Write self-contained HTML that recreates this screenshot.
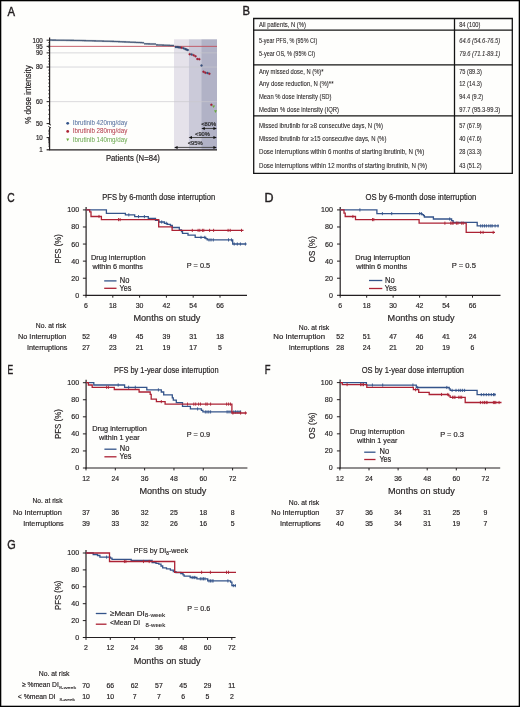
<!DOCTYPE html>
<html><head><meta charset="utf-8"><title>Figure</title>
<style>
html,body{margin:0;padding:0;background:#fff;}
svg{display:block;will-change:transform;font-family:"Liberation Sans", sans-serif;}
</style></head>
<body>
<svg width="520" height="707" viewBox="0 0 520 707">
<rect x="0.5" y="0.5" width="519" height="706" fill="#fefefc" stroke="#000" stroke-width="1.6"/>
<text x="7.38" y="15.50" font-size="13.08" textLength="7.54" lengthAdjust="spacingAndGlyphs" fill="#231f20" stroke="#231f20" stroke-width="0.45">A</text>
<text x="242.38" y="15.20" font-size="12.79" textLength="7.52" lengthAdjust="spacingAndGlyphs" fill="#231f20" stroke="#231f20" stroke-width="0.45">B</text>
<text x="7.28" y="201.67" font-size="13.42" textLength="7.41" lengthAdjust="spacingAndGlyphs" fill="#231f20" stroke="#231f20" stroke-width="0.45">C</text>
<text x="264.38" y="201.60" font-size="13.23" textLength="9.02" lengthAdjust="spacingAndGlyphs" fill="#231f20" stroke="#231f20" stroke-width="0.45">D</text>
<text x="7.50" y="373.60" font-size="13.23" textLength="5.66" lengthAdjust="spacingAndGlyphs" fill="#231f20" stroke="#231f20" stroke-width="0.45">E</text>
<text x="264.63" y="373.60" font-size="13.23" textLength="5.75" lengthAdjust="spacingAndGlyphs" fill="#231f20" stroke="#231f20" stroke-width="0.45">F</text>
<text x="7.25" y="548.77" font-size="13.42" textLength="8.46" lengthAdjust="spacingAndGlyphs" fill="#231f20" stroke="#231f20" stroke-width="0.45">G</text>
<rect x="174" y="39.3" width="14.8" height="110.50000000000001" fill="#e5e2ea"/>
<rect x="188.8" y="39.3" width="12.4" height="110.50000000000001" fill="#cbcad9"/>
<rect x="201.2" y="39.3" width="15.800000000000011" height="110.50000000000001" fill="#b1b2c6"/>
<line x1="49.6" y1="52.87" x2="217.0" y2="52.87" stroke="#c8c6cc" stroke-opacity="0.75" stroke-width="0.9"/>
<line x1="49.6" y1="67.04" x2="217.0" y2="67.04" stroke="#c8c6cc" stroke-opacity="0.75" stroke-width="0.9"/>
<line x1="49.6" y1="101.65" x2="217.0" y2="101.65" stroke="#c8c6cc" stroke-opacity="0.75" stroke-width="0.9"/>
<line x1="49.6" y1="46.37" x2="217.0" y2="46.37" stroke="#c0505e" stroke-width="0.9"/>
<line x1="49.6" y1="37.6" x2="49.6" y2="124.4" stroke="#231f20" stroke-width="1.2"/>
<line x1="49.6" y1="127.4" x2="49.6" y2="149.8" stroke="#231f20" stroke-width="1.2"/>
<path d="M48.4 123.6 L51.0 125.2" stroke="#231f20" stroke-width="1" fill="none"/>
<path d="M48.4 126.4 L51.0 128.0" stroke="#231f20" stroke-width="1" fill="none"/>
<line x1="49.0" y1="149.8" x2="217.0" y2="149.8" stroke="#231f20" stroke-width="1.3"/>
<line x1="46.6" y1="40.2" x2="49.6" y2="40.2" stroke="#231f20" stroke-width="1"/>
<line x1="46.6" y1="46.37" x2="49.6" y2="46.37" stroke="#231f20" stroke-width="1"/>
<line x1="46.6" y1="52.87" x2="49.6" y2="52.87" stroke="#231f20" stroke-width="1"/>
<line x1="46.6" y1="67.04" x2="49.6" y2="67.04" stroke="#231f20" stroke-width="1"/>
<line x1="46.6" y1="101.65" x2="49.6" y2="101.65" stroke="#231f20" stroke-width="1"/>
<line x1="46.6" y1="123.59" x2="49.6" y2="123.59" stroke="#231f20" stroke-width="1"/>
<line x1="48.0" y1="118.87" x2="49.6" y2="118.87" stroke="#231f20" stroke-width="0.6"/>
<line x1="48.0" y1="114.33" x2="49.6" y2="114.33" stroke="#231f20" stroke-width="0.6"/>
<line x1="48.0" y1="109.95" x2="49.6" y2="109.95" stroke="#231f20" stroke-width="0.6"/>
<line x1="48.0" y1="105.73" x2="49.6" y2="105.73" stroke="#231f20" stroke-width="0.6"/>
<line x1="48.0" y1="97.71" x2="49.6" y2="97.71" stroke="#231f20" stroke-width="0.6"/>
<line x1="48.0" y1="93.89" x2="49.6" y2="93.89" stroke="#231f20" stroke-width="0.6"/>
<line x1="48.0" y1="90.19" x2="49.6" y2="90.19" stroke="#231f20" stroke-width="0.6"/>
<line x1="48.0" y1="86.6" x2="49.6" y2="86.6" stroke="#231f20" stroke-width="0.6"/>
<line x1="48.0" y1="83.11" x2="49.6" y2="83.11" stroke="#231f20" stroke-width="0.6"/>
<line x1="48.0" y1="79.72" x2="49.6" y2="79.72" stroke="#231f20" stroke-width="0.6"/>
<line x1="48.0" y1="76.42" x2="49.6" y2="76.42" stroke="#231f20" stroke-width="0.6"/>
<line x1="48.0" y1="73.21" x2="49.6" y2="73.21" stroke="#231f20" stroke-width="0.6"/>
<line x1="48.0" y1="70.09" x2="49.6" y2="70.09" stroke="#231f20" stroke-width="0.6"/>
<line x1="48.0" y1="64.07" x2="49.6" y2="64.07" stroke="#231f20" stroke-width="0.6"/>
<line x1="48.0" y1="61.17" x2="49.6" y2="61.17" stroke="#231f20" stroke-width="0.6"/>
<line x1="48.0" y1="58.34" x2="49.6" y2="58.34" stroke="#231f20" stroke-width="0.6"/>
<line x1="48.0" y1="55.58" x2="49.6" y2="55.58" stroke="#231f20" stroke-width="0.6"/>
<line x1="48.0" y1="50.23" x2="49.6" y2="50.23" stroke="#231f20" stroke-width="0.6"/>
<line x1="48.0" y1="47.64" x2="49.6" y2="47.64" stroke="#231f20" stroke-width="0.6"/>
<line x1="48.0" y1="45.11" x2="49.6" y2="45.11" stroke="#231f20" stroke-width="0.6"/>
<line x1="48.0" y1="42.63" x2="49.6" y2="42.63" stroke="#231f20" stroke-width="0.6"/>
<line x1="48.0" y1="146.13" x2="49.6" y2="146.13" stroke="#231f20" stroke-width="0.6"/>
<line x1="48.0" y1="143.98" x2="49.6" y2="143.98" stroke="#231f20" stroke-width="0.6"/>
<line x1="48.0" y1="142.45" x2="49.6" y2="142.45" stroke="#231f20" stroke-width="0.6"/>
<line x1="48.0" y1="141.27" x2="49.6" y2="141.27" stroke="#231f20" stroke-width="0.6"/>
<line x1="48.0" y1="140.31" x2="49.6" y2="140.31" stroke="#231f20" stroke-width="0.6"/>
<line x1="48.0" y1="139.49" x2="49.6" y2="139.49" stroke="#231f20" stroke-width="0.6"/>
<line x1="48.0" y1="138.78" x2="49.6" y2="138.78" stroke="#231f20" stroke-width="0.6"/>
<line x1="48.0" y1="138.16" x2="49.6" y2="138.16" stroke="#231f20" stroke-width="0.6"/>
<line x1="48.0" y1="133.93" x2="49.6" y2="133.93" stroke="#231f20" stroke-width="0.6"/>
<line x1="48.0" y1="131.78" x2="49.6" y2="131.78" stroke="#231f20" stroke-width="0.6"/>
<line x1="48.0" y1="130.25" x2="49.6" y2="130.25" stroke="#231f20" stroke-width="0.6"/>
<line x1="46.6" y1="137.6" x2="49.6" y2="137.6" stroke="#231f20" stroke-width="1"/>
<text x="42.8" y="42.5" font-size="6.8" text-anchor="end" textLength="10.350000000000001" lengthAdjust="spacingAndGlyphs" fill="#231f20" stroke="#231f20" stroke-width="0.18">100</text>
<text x="42.8" y="48.67" font-size="6.8" text-anchor="end" textLength="6.9" lengthAdjust="spacingAndGlyphs" fill="#231f20" stroke="#231f20" stroke-width="0.18">95</text>
<text x="42.8" y="55.17" font-size="6.8" text-anchor="end" textLength="6.9" lengthAdjust="spacingAndGlyphs" fill="#231f20" stroke="#231f20" stroke-width="0.18">90</text>
<text x="42.8" y="69.34" font-size="6.8" text-anchor="end" textLength="6.9" lengthAdjust="spacingAndGlyphs" fill="#231f20" stroke="#231f20" stroke-width="0.18">80</text>
<text x="42.8" y="103.95" font-size="6.8" text-anchor="end" textLength="6.9" lengthAdjust="spacingAndGlyphs" fill="#231f20" stroke="#231f20" stroke-width="0.18">60</text>
<text x="42.8" y="125.89" font-size="6.8" text-anchor="end" textLength="6.9" lengthAdjust="spacingAndGlyphs" fill="#231f20" stroke="#231f20" stroke-width="0.18">50</text>
<text x="42.8" y="139.9" font-size="6.8" text-anchor="end" textLength="6.9" lengthAdjust="spacingAndGlyphs" fill="#231f20" stroke="#231f20" stroke-width="0.18">10</text>
<text x="42.8" y="152.1" font-size="6.8" text-anchor="end" textLength="3.45" lengthAdjust="spacingAndGlyphs" fill="#231f20" stroke="#231f20" stroke-width="0.18">1</text>
<line x1="46.6" y1="149.8" x2="49.6" y2="149.8" stroke="#231f20" stroke-width="1.2"/>
<text transform="translate(31.0 94.6) rotate(-90)" font-size="8.2" text-anchor="middle" textLength="58.5" lengthAdjust="spacingAndGlyphs" fill="#231f20" stroke="#231f20" stroke-width="0.18">% dose intensity</text>
<text x="105.9" y="160.5" font-size="8.3" textLength="54" lengthAdjust="spacingAndGlyphs" fill="#231f20" stroke="#231f20" stroke-width="0.18">Patients (N=84)</text>
<circle cx="67.7" cy="123.3" r="1.4" fill="#34548a"/>
<circle cx="67.7" cy="131.4" r="1.4" fill="#ac2234"/>
<path d="M66.2 138.4 L69.2 138.4 L67.7 141.2 Z" fill="#6aaa3c"/>
<text x="72.8" y="125.2" font-size="6.5" textLength="54.5" lengthAdjust="spacingAndGlyphs" fill="#5872a0" stroke="#5872a0" stroke-width="0.05">Ibrutinib 420mg/day</text>
<text x="72.8" y="133.4" font-size="6.5" textLength="54.5" lengthAdjust="spacingAndGlyphs" fill="#b6404f" stroke="#b6404f" stroke-width="0.05">Ibrutinib 280mg/day</text>
<text x="72.8" y="141.5" font-size="6.5" textLength="54.5" lengthAdjust="spacingAndGlyphs" fill="#6fab55" stroke="#6fab55" stroke-width="0.05">Ibrutinib 140mg/day</text>
<circle cx="51.0" cy="40.11" r="0.8" fill="#2c4672" stroke="#1b2b48" stroke-width="0.3"/>
<circle cx="53.0" cy="40.14" r="0.8" fill="#2c4672" stroke="#1b2b48" stroke-width="0.3"/>
<circle cx="55.0" cy="40.17" r="0.8" fill="#2c4672" stroke="#1b2b48" stroke-width="0.3"/>
<circle cx="57.0" cy="40.19" r="0.8" fill="#2c4672" stroke="#1b2b48" stroke-width="0.3"/>
<circle cx="59.0" cy="40.22" r="0.8" fill="#2c4672" stroke="#1b2b48" stroke-width="0.3"/>
<circle cx="61.0" cy="40.25" r="0.8" fill="#2c4672" stroke="#1b2b48" stroke-width="0.3"/>
<circle cx="63.0" cy="40.27" r="0.8" fill="#2c4672" stroke="#1b2b48" stroke-width="0.3"/>
<circle cx="65.0" cy="40.30" r="0.8" fill="#2c4672" stroke="#1b2b48" stroke-width="0.3"/>
<circle cx="67.0" cy="40.33" r="0.8" fill="#2c4672" stroke="#1b2b48" stroke-width="0.3"/>
<circle cx="69.0" cy="40.35" r="0.8" fill="#2c4672" stroke="#1b2b48" stroke-width="0.3"/>
<circle cx="71.0" cy="40.38" r="0.8" fill="#2c4672" stroke="#1b2b48" stroke-width="0.3"/>
<circle cx="73.0" cy="40.41" r="0.8" fill="#2c4672" stroke="#1b2b48" stroke-width="0.3"/>
<circle cx="75.0" cy="40.43" r="0.8" fill="#2c4672" stroke="#1b2b48" stroke-width="0.3"/>
<circle cx="77.0" cy="40.46" r="0.8" fill="#2c4672" stroke="#1b2b48" stroke-width="0.3"/>
<circle cx="79.0" cy="40.49" r="0.8" fill="#2c4672" stroke="#1b2b48" stroke-width="0.3"/>
<circle cx="81.0" cy="40.53" r="0.8" fill="#2c4672" stroke="#1b2b48" stroke-width="0.3"/>
<circle cx="83.0" cy="40.58" r="0.8" fill="#2c4672" stroke="#1b2b48" stroke-width="0.3"/>
<circle cx="85.0" cy="40.64" r="0.8" fill="#2c4672" stroke="#1b2b48" stroke-width="0.3"/>
<circle cx="87.0" cy="40.69" r="0.8" fill="#2c4672" stroke="#1b2b48" stroke-width="0.3"/>
<circle cx="89.0" cy="40.75" r="0.8" fill="#2c4672" stroke="#1b2b48" stroke-width="0.3"/>
<circle cx="91.0" cy="40.80" r="0.8" fill="#2c4672" stroke="#1b2b48" stroke-width="0.3"/>
<circle cx="93.0" cy="40.85" r="0.8" fill="#2c4672" stroke="#1b2b48" stroke-width="0.3"/>
<circle cx="95.0" cy="40.91" r="0.8" fill="#2c4672" stroke="#1b2b48" stroke-width="0.3"/>
<circle cx="97.0" cy="40.96" r="0.8" fill="#2c4672" stroke="#1b2b48" stroke-width="0.3"/>
<circle cx="99.0" cy="41.02" r="0.8" fill="#2c4672" stroke="#1b2b48" stroke-width="0.3"/>
<circle cx="101.0" cy="41.07" r="0.8" fill="#2c4672" stroke="#1b2b48" stroke-width="0.3"/>
<circle cx="103.0" cy="41.13" r="0.8" fill="#2c4672" stroke="#1b2b48" stroke-width="0.3"/>
<circle cx="105.0" cy="41.18" r="0.8" fill="#2c4672" stroke="#1b2b48" stroke-width="0.3"/>
<circle cx="107.0" cy="41.24" r="0.8" fill="#2c4672" stroke="#1b2b48" stroke-width="0.3"/>
<circle cx="109.0" cy="41.29" r="0.8" fill="#2c4672" stroke="#1b2b48" stroke-width="0.3"/>
<circle cx="111.0" cy="41.35" r="0.8" fill="#2c4672" stroke="#1b2b48" stroke-width="0.3"/>
<circle cx="113.0" cy="41.40" r="0.8" fill="#2c4672" stroke="#1b2b48" stroke-width="0.3"/>
<circle cx="115.0" cy="41.49" r="0.8" fill="#2c4672" stroke="#1b2b48" stroke-width="0.3"/>
<circle cx="117.0" cy="41.57" r="0.8" fill="#2c4672" stroke="#1b2b48" stroke-width="0.3"/>
<circle cx="119.0" cy="41.66" r="0.8" fill="#2c4672" stroke="#1b2b48" stroke-width="0.3"/>
<circle cx="121.0" cy="41.75" r="0.8" fill="#2c4672" stroke="#1b2b48" stroke-width="0.3"/>
<circle cx="123.0" cy="41.83" r="0.8" fill="#2c4672" stroke="#1b2b48" stroke-width="0.3"/>
<circle cx="125.0" cy="41.92" r="0.8" fill="#2c4672" stroke="#1b2b48" stroke-width="0.3"/>
<circle cx="127.0" cy="42.01" r="0.8" fill="#2c4672" stroke="#1b2b48" stroke-width="0.3"/>
<circle cx="129.0" cy="42.09" r="0.8" fill="#2c4672" stroke="#1b2b48" stroke-width="0.3"/>
<circle cx="131.0" cy="42.18" r="0.8" fill="#2c4672" stroke="#1b2b48" stroke-width="0.3"/>
<circle cx="133.0" cy="42.27" r="0.8" fill="#2c4672" stroke="#1b2b48" stroke-width="0.3"/>
<circle cx="135.0" cy="42.35" r="0.8" fill="#2c4672" stroke="#1b2b48" stroke-width="0.3"/>
<circle cx="137.0" cy="42.44" r="0.8" fill="#2c4672" stroke="#1b2b48" stroke-width="0.3"/>
<circle cx="139.0" cy="42.53" r="0.8" fill="#2c4672" stroke="#1b2b48" stroke-width="0.3"/>
<circle cx="141.0" cy="42.61" r="0.8" fill="#2c4672" stroke="#1b2b48" stroke-width="0.3"/>
<circle cx="143.0" cy="42.70" r="0.8" fill="#2c4672" stroke="#1b2b48" stroke-width="0.3"/>
<circle cx="145.0" cy="43.81" r="0.8" fill="#2c4672" stroke="#1b2b48" stroke-width="0.3"/>
<circle cx="147.0" cy="43.87" r="0.8" fill="#2c4672" stroke="#1b2b48" stroke-width="0.3"/>
<circle cx="149.0" cy="43.92" r="0.8" fill="#2c4672" stroke="#1b2b48" stroke-width="0.3"/>
<circle cx="151.0" cy="43.97" r="0.8" fill="#2c4672" stroke="#1b2b48" stroke-width="0.3"/>
<circle cx="153.0" cy="44.02" r="0.8" fill="#2c4672" stroke="#1b2b48" stroke-width="0.3"/>
<circle cx="155.0" cy="44.07" r="0.8" fill="#2c4672" stroke="#1b2b48" stroke-width="0.3"/>
<circle cx="157.0" cy="44.90" r="0.8" fill="#2c4672" stroke="#1b2b48" stroke-width="0.3"/>
<circle cx="159.0" cy="44.98" r="0.8" fill="#2c4672" stroke="#1b2b48" stroke-width="0.3"/>
<circle cx="161.0" cy="45.06" r="0.8" fill="#2c4672" stroke="#1b2b48" stroke-width="0.3"/>
<circle cx="163.0" cy="45.13" r="0.8" fill="#2c4672" stroke="#1b2b48" stroke-width="0.3"/>
<circle cx="165.0" cy="45.21" r="0.8" fill="#2c4672" stroke="#1b2b48" stroke-width="0.3"/>
<circle cx="167.0" cy="45.29" r="0.8" fill="#2c4672" stroke="#1b2b48" stroke-width="0.3"/>
<circle cx="169.0" cy="45.37" r="0.8" fill="#2c4672" stroke="#1b2b48" stroke-width="0.3"/>
<circle cx="171.0" cy="45.44" r="0.8" fill="#2c4672" stroke="#1b2b48" stroke-width="0.3"/>
<circle cx="173.0" cy="45.52" r="0.8" fill="#2c4672" stroke="#1b2b48" stroke-width="0.3"/>
<circle cx="175.8" cy="46.90" r="1.0" fill="#34507f" stroke="#22365a" stroke-width="0.3"/>
<circle cx="177.2" cy="47.10" r="1.0" fill="#34507f" stroke="#22365a" stroke-width="0.3"/>
<circle cx="178.7" cy="47.30" r="1.0" fill="#34507f" stroke="#22365a" stroke-width="0.3"/>
<circle cx="180.1" cy="47.50" r="1.0" fill="#34507f" stroke="#22365a" stroke-width="0.3"/>
<circle cx="181.7" cy="47.70" r="1.0" fill="#b01f36" stroke="#7a1525" stroke-width="0.3"/>
<circle cx="183.5" cy="48.20" r="1.0" fill="#34507f" stroke="#22365a" stroke-width="0.3"/>
<circle cx="185.2" cy="49.10" r="1.0" fill="#34507f" stroke="#22365a" stroke-width="0.3"/>
<circle cx="186.5" cy="49.60" r="1.0" fill="#34507f" stroke="#22365a" stroke-width="0.3"/>
<circle cx="187.8" cy="50.10" r="1.0" fill="#34507f" stroke="#22365a" stroke-width="0.3"/>
<circle cx="189.7" cy="54.20" r="1.0" fill="#b01f36" stroke="#7a1525" stroke-width="0.3"/>
<circle cx="191.6" cy="54.40" r="1.0" fill="#34507f" stroke="#22365a" stroke-width="0.3"/>
<circle cx="193.6" cy="55.20" r="1.0" fill="#b01f36" stroke="#7a1525" stroke-width="0.3"/>
<circle cx="195.5" cy="56.30" r="1.0" fill="#b01f36" stroke="#7a1525" stroke-width="0.3"/>
<circle cx="197.4" cy="59.00" r="1.0" fill="#b01f36" stroke="#7a1525" stroke-width="0.3"/>
<circle cx="199.3" cy="59.20" r="1.0" fill="#b01f36" stroke="#7a1525" stroke-width="0.3"/>
<circle cx="201.5" cy="65.50" r="1.0" fill="#34507f" stroke="#22365a" stroke-width="0.3"/>
<circle cx="203.5" cy="71.70" r="1.0" fill="#b01f36" stroke="#7a1525" stroke-width="0.3"/>
<circle cx="205.4" cy="72.70" r="1.0" fill="#b01f36" stroke="#7a1525" stroke-width="0.3"/>
<circle cx="207.5" cy="73.00" r="1.0" fill="#34507f" stroke="#22365a" stroke-width="0.3"/>
<circle cx="209.4" cy="73.70" r="1.0" fill="#b01f36" stroke="#7a1525" stroke-width="0.3"/>
<circle cx="211.4" cy="104.80" r="1.0" fill="#b01f36" stroke="#7a1525" stroke-width="0.3"/>
<path d="M212.1 105.4 L215.1 105.4 L213.6 108.1 Z" fill="#6aaa3c"/>
<path d="M214.0 110.3 L217.0 110.3 L215.5 113.0 Z" fill="#6aaa3c"/>
<line x1="202.9" y1="128.5" x2="215.3" y2="128.5" stroke="#4a4a4a" stroke-width="1"/>
<path d="M201.4 128.5 L204.8 127.0 L204.8 130.0 Z" fill="#111"/>
<path d="M216.8 128.5 L213.4 127.0 L213.4 130.0 Z" fill="#111"/>
<line x1="190.1" y1="137.5" x2="215.3" y2="137.5" stroke="#4a4a4a" stroke-width="1"/>
<path d="M188.6 137.5 L192.0 136.0 L192.0 139.0 Z" fill="#111"/>
<path d="M216.8 137.5 L213.4 136.0 L213.4 139.0 Z" fill="#111"/>
<line x1="175.7" y1="147.4" x2="215.3" y2="147.4" stroke="#4a4a4a" stroke-width="1"/>
<path d="M174.2 147.4 L177.6 145.9 L177.6 148.9 Z" fill="#111"/>
<path d="M216.8 147.4 L213.4 145.9 L213.4 148.9 Z" fill="#111"/>
<text x="201.2" y="125.8" font-size="5.0" textLength="15.0" lengthAdjust="spacingAndGlyphs" fill="#2a2a2a" stroke="#2a2a2a" stroke-width="0.18">&lt;80%</text>
<text x="195.1" y="135.5" font-size="5.0" textLength="14.8" lengthAdjust="spacingAndGlyphs" fill="#2a2a2a" stroke="#2a2a2a" stroke-width="0.18">&lt;90%</text>
<text x="187.7" y="145.2" font-size="5.0" textLength="15.1" lengthAdjust="spacingAndGlyphs" fill="#2a2a2a" stroke="#2a2a2a" stroke-width="0.18">&lt;95%</text>
<line x1="253.04999999999998" y1="18.5" x2="512.9499999999999" y2="18.5" stroke="#141414" stroke-width="1.3"/>
<line x1="253.04999999999998" y1="30.1" x2="512.9499999999999" y2="30.1" stroke="#141414" stroke-width="1.3"/>
<line x1="253.04999999999998" y1="64.8" x2="512.9499999999999" y2="64.8" stroke="#141414" stroke-width="1.3"/>
<line x1="253.04999999999998" y1="115.8" x2="512.9499999999999" y2="115.8" stroke="#141414" stroke-width="1.3"/>
<line x1="253.04999999999998" y1="173.3" x2="512.9499999999999" y2="173.3" stroke="#141414" stroke-width="1.3"/>
<line x1="253.7" y1="18.5" x2="253.7" y2="173.3" stroke="#141414" stroke-width="1.3"/>
<line x1="512.3" y1="18.5" x2="512.3" y2="173.3" stroke="#141414" stroke-width="1.3"/>
<line x1="454.5" y1="18.5" x2="454.5" y2="173.3" stroke="#141414" stroke-width="1.3"/>
<text x="259.0" y="26.8" font-size="6.6" textLength="47.0" lengthAdjust="spacingAndGlyphs" fill="#231f20" stroke="#231f20" stroke-width="0.08">All patients, N (%)</text>
<text x="459.2" y="26.8" font-size="6.6" textLength="21.2" lengthAdjust="spacingAndGlyphs" fill="#231f20" stroke="#231f20" stroke-width="0.08">84 (100)</text>
<text x="259.0" y="43.1" font-size="6.6" textLength="58.2" lengthAdjust="spacingAndGlyphs" fill="#231f20" stroke="#231f20" stroke-width="0.08">5-year PFS, % (95% CI)</text>
<text x="459.2" y="43.1" font-size="6.6" textLength="41.0" lengthAdjust="spacingAndGlyphs" fill="#231f20" stroke="#231f20" stroke-width="0.08" font-style="italic">64.6 (54.6-76.5)</text>
<text x="259.0" y="55.6" font-size="6.6" textLength="56.2" lengthAdjust="spacingAndGlyphs" fill="#231f20" stroke="#231f20" stroke-width="0.08">5-year OS, % (95% CI)</text>
<text x="459.2" y="55.6" font-size="6.6" textLength="41.0" lengthAdjust="spacingAndGlyphs" fill="#231f20" stroke="#231f20" stroke-width="0.08" font-style="italic">79.6 (71.1-89.1)</text>
<text x="259.0" y="73.6" font-size="6.6" textLength="64.5" lengthAdjust="spacingAndGlyphs" fill="#231f20" stroke="#231f20" stroke-width="0.08">Any missed dose, N (%)*</text>
<text x="459.2" y="73.6" font-size="6.6" textLength="22.6" lengthAdjust="spacingAndGlyphs" fill="#231f20" stroke="#231f20" stroke-width="0.08">75 (89.3)</text>
<text x="259.0" y="86.2" font-size="6.6" textLength="74.5" lengthAdjust="spacingAndGlyphs" fill="#231f20" stroke="#231f20" stroke-width="0.08">Any dose reduction, N (%)**</text>
<text x="459.2" y="86.2" font-size="6.6" textLength="22.6" lengthAdjust="spacingAndGlyphs" fill="#231f20" stroke="#231f20" stroke-width="0.08">12 (14.3)</text>
<text x="259.0" y="98.8" font-size="6.6" textLength="72.5" lengthAdjust="spacingAndGlyphs" fill="#231f20" stroke="#231f20" stroke-width="0.08">Mean % dose intensity (SD)</text>
<text x="459.2" y="98.8" font-size="6.6" textLength="24.0" lengthAdjust="spacingAndGlyphs" fill="#231f20" stroke="#231f20" stroke-width="0.08">94.4 (9.2)</text>
<text x="259.0" y="111.8" font-size="6.6" textLength="80.0" lengthAdjust="spacingAndGlyphs" fill="#231f20" stroke="#231f20" stroke-width="0.08">Median % dose intensity (IQR)</text>
<text x="459.2" y="111.8" font-size="6.6" textLength="41.0" lengthAdjust="spacingAndGlyphs" fill="#231f20" stroke="#231f20" stroke-width="0.08">97.7 (95.3-99.3)</text>
<text x="259.0" y="127.6" font-size="6.6" textLength="124.0" lengthAdjust="spacingAndGlyphs" fill="#231f20" stroke="#231f20" stroke-width="0.08">Missed ibrutinib for ≥8 consecutive days, N (%)</text>
<text x="459.2" y="127.6" font-size="6.6" textLength="22.5" lengthAdjust="spacingAndGlyphs" fill="#231f20" stroke="#231f20" stroke-width="0.08">57 (67.9)</text>
<text x="259.0" y="140.7" font-size="6.6" textLength="127.4" lengthAdjust="spacingAndGlyphs" fill="#231f20" stroke="#231f20" stroke-width="0.08">Missed ibrutinib for ≥15 consecutive days, N (%)</text>
<text x="459.2" y="140.7" font-size="6.6" textLength="22.5" lengthAdjust="spacingAndGlyphs" fill="#231f20" stroke="#231f20" stroke-width="0.08">40 (47.6)</text>
<text x="259.0" y="154.2" font-size="6.6" textLength="165.2" lengthAdjust="spacingAndGlyphs" fill="#231f20" stroke="#231f20" stroke-width="0.08">Dose interruptions within 6 months of starting ibrutinib, N (%)</text>
<text x="459.2" y="154.2" font-size="6.6" textLength="22.5" lengthAdjust="spacingAndGlyphs" fill="#231f20" stroke="#231f20" stroke-width="0.08">28 (33.3)</text>
<text x="259.0" y="167.5" font-size="6.6" textLength="168.1" lengthAdjust="spacingAndGlyphs" fill="#231f20" stroke="#231f20" stroke-width="0.08">Dose interruptions within 12 months of starting ibrutinib, N (%)</text>
<text x="459.2" y="167.5" font-size="6.6" textLength="22.5" lengthAdjust="spacingAndGlyphs" fill="#231f20" stroke="#231f20" stroke-width="0.08">43 (51.2)</text>
<line x1="86.1" y1="206.9" x2="86.1" y2="295.90000000000003" stroke="#231f20" stroke-width="1.2"/>
<line x1="85.5" y1="295.3" x2="247.0" y2="295.3" stroke="#231f20" stroke-width="1.2"/>
<line x1="82.89999999999999" y1="295.3" x2="86.1" y2="295.3" stroke="#231f20" stroke-width="1"/>
<text x="79.2" y="297.75" font-size="8.0" text-anchor="end" textLength="3.95" lengthAdjust="spacingAndGlyphs" fill="#231f20" stroke="#231f20" stroke-width="0.18">0</text>
<line x1="82.89999999999999" y1="278.22" x2="86.1" y2="278.22" stroke="#231f20" stroke-width="1"/>
<text x="79.2" y="280.67" font-size="8.0" text-anchor="end" textLength="7.9" lengthAdjust="spacingAndGlyphs" fill="#231f20" stroke="#231f20" stroke-width="0.18">20</text>
<line x1="82.89999999999999" y1="261.14" x2="86.1" y2="261.14" stroke="#231f20" stroke-width="1"/>
<text x="79.2" y="263.59" font-size="8.0" text-anchor="end" textLength="7.9" lengthAdjust="spacingAndGlyphs" fill="#231f20" stroke="#231f20" stroke-width="0.18">40</text>
<line x1="82.89999999999999" y1="244.06" x2="86.1" y2="244.06" stroke="#231f20" stroke-width="1"/>
<text x="79.2" y="246.51" font-size="8.0" text-anchor="end" textLength="7.9" lengthAdjust="spacingAndGlyphs" fill="#231f20" stroke="#231f20" stroke-width="0.18">60</text>
<line x1="82.89999999999999" y1="226.98" x2="86.1" y2="226.98" stroke="#231f20" stroke-width="1"/>
<text x="79.2" y="229.43" font-size="8.0" text-anchor="end" textLength="7.9" lengthAdjust="spacingAndGlyphs" fill="#231f20" stroke="#231f20" stroke-width="0.18">80</text>
<line x1="82.89999999999999" y1="209.9" x2="86.1" y2="209.9" stroke="#231f20" stroke-width="1"/>
<text x="79.2" y="212.35" font-size="8.0" text-anchor="end" textLength="11.85" lengthAdjust="spacingAndGlyphs" fill="#231f20" stroke="#231f20" stroke-width="0.18">100</text>
<line x1="86.0" y1="295.3" x2="86.0" y2="297.7" stroke="#231f20" stroke-width="1"/>
<text x="86.0" y="307.9" font-size="7.9" text-anchor="middle" textLength="3.85" lengthAdjust="spacingAndGlyphs" fill="#231f20" stroke="#231f20" stroke-width="0.18">6</text>
<line x1="112.8" y1="295.3" x2="112.8" y2="297.7" stroke="#231f20" stroke-width="1"/>
<text x="112.8" y="307.9" font-size="7.9" text-anchor="middle" textLength="7.7" lengthAdjust="spacingAndGlyphs" fill="#231f20" stroke="#231f20" stroke-width="0.18">18</text>
<line x1="139.6" y1="295.3" x2="139.6" y2="297.7" stroke="#231f20" stroke-width="1"/>
<text x="139.6" y="307.9" font-size="7.9" text-anchor="middle" textLength="7.7" lengthAdjust="spacingAndGlyphs" fill="#231f20" stroke="#231f20" stroke-width="0.18">30</text>
<line x1="166.4" y1="295.3" x2="166.4" y2="297.7" stroke="#231f20" stroke-width="1"/>
<text x="166.4" y="307.9" font-size="7.9" text-anchor="middle" textLength="7.7" lengthAdjust="spacingAndGlyphs" fill="#231f20" stroke="#231f20" stroke-width="0.18">42</text>
<line x1="193.2" y1="295.3" x2="193.2" y2="297.7" stroke="#231f20" stroke-width="1"/>
<text x="193.2" y="307.9" font-size="7.9" text-anchor="middle" textLength="7.7" lengthAdjust="spacingAndGlyphs" fill="#231f20" stroke="#231f20" stroke-width="0.18">54</text>
<line x1="220.0" y1="295.3" x2="220.0" y2="297.7" stroke="#231f20" stroke-width="1"/>
<text x="220.0" y="307.9" font-size="7.9" text-anchor="middle" textLength="7.7" lengthAdjust="spacingAndGlyphs" fill="#231f20" stroke="#231f20" stroke-width="0.18">66</text>
<text x="102.3" y="200.4" font-size="8.2" textLength="112.9" lengthAdjust="spacingAndGlyphs" fill="#231f20" stroke="#231f20" stroke-width="0.18">PFS by 6-month dose interruption</text>
<text x="133.4" y="321.40000000000003" font-size="9.9" textLength="67" lengthAdjust="spacingAndGlyphs" fill="#231f20" stroke="#231f20" stroke-width="0.18">Months on study</text>
<text transform="translate(60.6 248.9) rotate(-90)" font-size="9.6" text-anchor="middle" textLength="29.4" stroke="#231f20" stroke-width="0.18" lengthAdjust="spacingAndGlyphs" fill="#231f20">PFS (%)</text>
<text x="90.9" y="259.90000000000003" font-size="7.7" textLength="54.7" lengthAdjust="spacingAndGlyphs" fill="#231f20" stroke="#231f20" stroke-width="0.18">Drug interruption</text>
<text x="92.5" y="268.6" font-size="7.7" textLength="50.4" lengthAdjust="spacingAndGlyphs" fill="#231f20" stroke="#231f20" stroke-width="0.18">within 6 months</text>
<text x="186.8" y="268.0" font-size="7.7" textLength="23.4" lengthAdjust="spacingAndGlyphs" fill="#231f20" stroke="#231f20" stroke-width="0.18">P = 0.5</text>
<line x1="104.2" y1="280.9" x2="116.5" y2="280.9" stroke="#34548a" stroke-width="1.3"/>
<line x1="104.2" y1="288.3" x2="116.5" y2="288.3" stroke="#ac2234" stroke-width="1.3"/>
<text x="119.8" y="283.0" font-size="8.2" textLength="9.6" lengthAdjust="spacingAndGlyphs" fill="#231f20" stroke="#231f20" stroke-width="0.18">No</text>
<text x="119.6" y="290.6" font-size="8.2" textLength="11.8" lengthAdjust="spacingAndGlyphs" fill="#231f20" stroke="#231f20" stroke-width="0.18">Yes</text>
<path d="M86.1 209.9 H106.4 V213.4 H125.4 V214.9 H134.7 V216.6 H148.3 V218.5 H155.5 V220.3 H158.8 V222.0 H164.4 V223.3 H167.5 V224.3 H170.4 V225.5 H172.3 V227.5 H179.3 V229.8 H181.5 V231.5 H182.5 V233.3 H188.0 V235.2 H195.2 V237.4 H205.8 V238.6 H207.2 V239.9 H232.7 V244.0 H246.5" fill="none" stroke="#34548a" stroke-width="1.3"/>
<line x1="128.8" y1="213.30" x2="128.8" y2="216.50" stroke="#34548a" stroke-width="0.9"/>
<line x1="138.5" y1="215.00" x2="138.5" y2="218.20" stroke="#34548a" stroke-width="0.9"/>
<line x1="144.4" y1="215.00" x2="144.4" y2="218.20" stroke="#34548a" stroke-width="0.9"/>
<line x1="161.7" y1="220.40" x2="161.7" y2="223.60" stroke="#34548a" stroke-width="0.9"/>
<line x1="166.3" y1="221.70" x2="166.3" y2="224.90" stroke="#34548a" stroke-width="0.9"/>
<line x1="201" y1="235.80" x2="201" y2="239.00" stroke="#34548a" stroke-width="0.9"/>
<line x1="204.8" y1="235.80" x2="204.8" y2="239.00" stroke="#34548a" stroke-width="0.9"/>
<line x1="209" y1="238.30" x2="209" y2="241.50" stroke="#34548a" stroke-width="0.9"/>
<line x1="211" y1="238.30" x2="211" y2="241.50" stroke="#34548a" stroke-width="0.9"/>
<line x1="213.3" y1="238.30" x2="213.3" y2="241.50" stroke="#34548a" stroke-width="0.9"/>
<line x1="228.5" y1="238.30" x2="228.5" y2="241.50" stroke="#34548a" stroke-width="0.9"/>
<line x1="231.5" y1="238.30" x2="231.5" y2="241.50" stroke="#34548a" stroke-width="0.9"/>
<line x1="234.2" y1="242.40" x2="234.2" y2="245.60" stroke="#34548a" stroke-width="0.9"/>
<line x1="237.3" y1="242.40" x2="237.3" y2="245.60" stroke="#34548a" stroke-width="0.9"/>
<line x1="240.4" y1="242.40" x2="240.4" y2="245.60" stroke="#34548a" stroke-width="0.9"/>
<line x1="245.4" y1="242.40" x2="245.4" y2="245.60" stroke="#34548a" stroke-width="0.9"/>
<path d="M86.1 209.9 H89.7 V211.8 H91.0 V216.5 H101.4 V219.6 H158.7 V226.9 H172.1 V230.4 H243.5" fill="none" stroke="#ac2234" stroke-width="1.3"/>
<line x1="99" y1="214.90" x2="99" y2="218.10" stroke="#ac2234" stroke-width="0.9"/>
<line x1="118.5" y1="218.00" x2="118.5" y2="221.20" stroke="#ac2234" stroke-width="0.9"/>
<line x1="120.1" y1="218.00" x2="120.1" y2="221.20" stroke="#ac2234" stroke-width="0.9"/>
<line x1="192.3" y1="228.80" x2="192.3" y2="232.00" stroke="#ac2234" stroke-width="0.9"/>
<line x1="198.1" y1="228.80" x2="198.1" y2="232.00" stroke="#ac2234" stroke-width="0.9"/>
<line x1="199.8" y1="228.80" x2="199.8" y2="232.00" stroke="#ac2234" stroke-width="0.9"/>
<line x1="202.4" y1="228.80" x2="202.4" y2="232.00" stroke="#ac2234" stroke-width="0.9"/>
<line x1="203.8" y1="228.80" x2="203.8" y2="232.00" stroke="#ac2234" stroke-width="0.9"/>
<line x1="209.6" y1="228.80" x2="209.6" y2="232.00" stroke="#ac2234" stroke-width="0.9"/>
<line x1="213.6" y1="228.80" x2="213.6" y2="232.00" stroke="#ac2234" stroke-width="0.9"/>
<line x1="228.1" y1="228.80" x2="228.1" y2="232.00" stroke="#ac2234" stroke-width="0.9"/>
<line x1="230.2" y1="228.80" x2="230.2" y2="232.00" stroke="#ac2234" stroke-width="0.9"/>
<line x1="241.5" y1="228.80" x2="241.5" y2="232.00" stroke="#ac2234" stroke-width="0.9"/>
<text x="35.75" y="327.6" font-size="7.4" textLength="30.5" lengthAdjust="spacingAndGlyphs" fill="#231f20" stroke="#231f20" stroke-width="0.18">No. at risk</text>
<text x="18.0" y="338.8" font-size="7.4" textLength="48.25" lengthAdjust="spacingAndGlyphs" fill="#231f20" stroke="#231f20" stroke-width="0.18">No Interruption</text>
<text x="27.0" y="349.6" font-size="7.4" textLength="40.5" lengthAdjust="spacingAndGlyphs" fill="#231f20" stroke="#231f20" stroke-width="0.18">Interruptions</text>
<text x="86.0" y="338.8" font-size="6.9" text-anchor="middle" fill="#231f20" stroke="#231f20" stroke-width="0.18">52</text>
<text x="112.8" y="338.8" font-size="6.9" text-anchor="middle" fill="#231f20" stroke="#231f20" stroke-width="0.18">49</text>
<text x="139.6" y="338.8" font-size="6.9" text-anchor="middle" fill="#231f20" stroke="#231f20" stroke-width="0.18">45</text>
<text x="166.4" y="338.8" font-size="6.9" text-anchor="middle" fill="#231f20" stroke="#231f20" stroke-width="0.18">39</text>
<text x="193.2" y="338.8" font-size="6.9" text-anchor="middle" fill="#231f20" stroke="#231f20" stroke-width="0.18">31</text>
<text x="220.0" y="338.8" font-size="6.9" text-anchor="middle" fill="#231f20" stroke="#231f20" stroke-width="0.18">18</text>
<text x="86.0" y="349.8" font-size="6.9" text-anchor="middle" fill="#231f20" stroke="#231f20" stroke-width="0.18">27</text>
<text x="112.8" y="349.8" font-size="6.9" text-anchor="middle" fill="#231f20" stroke="#231f20" stroke-width="0.18">23</text>
<text x="139.6" y="349.8" font-size="6.9" text-anchor="middle" fill="#231f20" stroke="#231f20" stroke-width="0.18">21</text>
<text x="166.4" y="349.8" font-size="6.9" text-anchor="middle" fill="#231f20" stroke="#231f20" stroke-width="0.18">19</text>
<text x="193.2" y="349.8" font-size="6.9" text-anchor="middle" fill="#231f20" stroke="#231f20" stroke-width="0.18">17</text>
<text x="220.0" y="349.8" font-size="6.9" text-anchor="middle" fill="#231f20" stroke="#231f20" stroke-width="0.18">5</text>
<line x1="340.2" y1="206.9" x2="340.2" y2="295.90000000000003" stroke="#231f20" stroke-width="1.2"/>
<line x1="339.59999999999997" y1="295.3" x2="500.5" y2="295.3" stroke="#231f20" stroke-width="1.2"/>
<line x1="337.0" y1="295.3" x2="340.2" y2="295.3" stroke="#231f20" stroke-width="1"/>
<text x="332.9" y="297.75" font-size="8.0" text-anchor="end" textLength="3.95" lengthAdjust="spacingAndGlyphs" fill="#231f20" stroke="#231f20" stroke-width="0.18">0</text>
<line x1="337.0" y1="278.22" x2="340.2" y2="278.22" stroke="#231f20" stroke-width="1"/>
<text x="332.9" y="280.67" font-size="8.0" text-anchor="end" textLength="7.9" lengthAdjust="spacingAndGlyphs" fill="#231f20" stroke="#231f20" stroke-width="0.18">20</text>
<line x1="337.0" y1="261.14" x2="340.2" y2="261.14" stroke="#231f20" stroke-width="1"/>
<text x="332.9" y="263.59" font-size="8.0" text-anchor="end" textLength="7.9" lengthAdjust="spacingAndGlyphs" fill="#231f20" stroke="#231f20" stroke-width="0.18">40</text>
<line x1="337.0" y1="244.06" x2="340.2" y2="244.06" stroke="#231f20" stroke-width="1"/>
<text x="332.9" y="246.51" font-size="8.0" text-anchor="end" textLength="7.9" lengthAdjust="spacingAndGlyphs" fill="#231f20" stroke="#231f20" stroke-width="0.18">60</text>
<line x1="337.0" y1="226.98" x2="340.2" y2="226.98" stroke="#231f20" stroke-width="1"/>
<text x="332.9" y="229.43" font-size="8.0" text-anchor="end" textLength="7.9" lengthAdjust="spacingAndGlyphs" fill="#231f20" stroke="#231f20" stroke-width="0.18">80</text>
<line x1="337.0" y1="209.9" x2="340.2" y2="209.9" stroke="#231f20" stroke-width="1"/>
<text x="332.9" y="212.35" font-size="8.0" text-anchor="end" textLength="11.85" lengthAdjust="spacingAndGlyphs" fill="#231f20" stroke="#231f20" stroke-width="0.18">100</text>
<line x1="340.2" y1="295.3" x2="340.2" y2="297.7" stroke="#231f20" stroke-width="1"/>
<text x="340.2" y="307.9" font-size="7.9" text-anchor="middle" textLength="3.85" lengthAdjust="spacingAndGlyphs" fill="#231f20" stroke="#231f20" stroke-width="0.18">6</text>
<line x1="366.66" y1="295.3" x2="366.66" y2="297.7" stroke="#231f20" stroke-width="1"/>
<text x="366.66" y="307.9" font-size="7.9" text-anchor="middle" textLength="7.7" lengthAdjust="spacingAndGlyphs" fill="#231f20" stroke="#231f20" stroke-width="0.18">18</text>
<line x1="393.12" y1="295.3" x2="393.12" y2="297.7" stroke="#231f20" stroke-width="1"/>
<text x="393.12" y="307.9" font-size="7.9" text-anchor="middle" textLength="7.7" lengthAdjust="spacingAndGlyphs" fill="#231f20" stroke="#231f20" stroke-width="0.18">30</text>
<line x1="419.58" y1="295.3" x2="419.58" y2="297.7" stroke="#231f20" stroke-width="1"/>
<text x="419.58" y="307.9" font-size="7.9" text-anchor="middle" textLength="7.7" lengthAdjust="spacingAndGlyphs" fill="#231f20" stroke="#231f20" stroke-width="0.18">42</text>
<line x1="446.04" y1="295.3" x2="446.04" y2="297.7" stroke="#231f20" stroke-width="1"/>
<text x="446.04" y="307.9" font-size="7.9" text-anchor="middle" textLength="7.7" lengthAdjust="spacingAndGlyphs" fill="#231f20" stroke="#231f20" stroke-width="0.18">54</text>
<line x1="472.5" y1="295.3" x2="472.5" y2="297.7" stroke="#231f20" stroke-width="1"/>
<text x="472.5" y="307.9" font-size="7.9" text-anchor="middle" textLength="7.7" lengthAdjust="spacingAndGlyphs" fill="#231f20" stroke="#231f20" stroke-width="0.18">66</text>
<text x="365.5" y="199.9" font-size="8.2" textLength="110.75" lengthAdjust="spacingAndGlyphs" fill="#231f20" stroke="#231f20" stroke-width="0.18">OS by 6-month dose interruption</text>
<text x="387.6" y="320.90000000000003" font-size="9.9" textLength="67" lengthAdjust="spacingAndGlyphs" fill="#231f20" stroke="#231f20" stroke-width="0.18">Months on study</text>
<text transform="translate(315.2 249.2) rotate(-90)" font-size="9.6" text-anchor="middle" textLength="26.1" stroke="#231f20" stroke-width="0.18" lengthAdjust="spacingAndGlyphs" fill="#231f20">OS (%)</text>
<text x="355.3" y="259.8" font-size="7.7" textLength="55.2" lengthAdjust="spacingAndGlyphs" fill="#231f20" stroke="#231f20" stroke-width="0.18">Drug interruption</text>
<text x="356.2" y="268.6" font-size="7.7" textLength="51.1" lengthAdjust="spacingAndGlyphs" fill="#231f20" stroke="#231f20" stroke-width="0.18">within 6 months</text>
<text x="451.7" y="268.0" font-size="7.7" textLength="24.3" lengthAdjust="spacingAndGlyphs" fill="#231f20" stroke="#231f20" stroke-width="0.18">P = 0.5</text>
<line x1="369.0" y1="280.5" x2="382.3" y2="280.5" stroke="#34548a" stroke-width="1.3"/>
<line x1="369.0" y1="288.5" x2="382.3" y2="288.5" stroke="#ac2234" stroke-width="1.3"/>
<text x="385.0" y="282.7" font-size="8.2" textLength="9.6" lengthAdjust="spacingAndGlyphs" fill="#231f20" stroke="#231f20" stroke-width="0.18">No</text>
<text x="384.8" y="290.7" font-size="8.2" textLength="11.8" lengthAdjust="spacingAndGlyphs" fill="#231f20" stroke="#231f20" stroke-width="0.18">Yes</text>
<path d="M340.2 209.9 H376.9 V213.6 H422.0 V214.6 H423.5 V215.6 H424.4 V217.0 H433.4 V219.0 H451.6 V220.6 H453.1 V222.3 H477.2 V225.9 H499.0" fill="none" stroke="#34548a" stroke-width="1.3"/>
<line x1="359.9" y1="208.30" x2="359.9" y2="211.50" stroke="#34548a" stroke-width="0.9"/>
<line x1="382.4" y1="212.00" x2="382.4" y2="215.20" stroke="#34548a" stroke-width="0.9"/>
<line x1="391.7" y1="212.00" x2="391.7" y2="215.20" stroke="#34548a" stroke-width="0.9"/>
<line x1="419.6" y1="212.00" x2="419.6" y2="215.20" stroke="#34548a" stroke-width="0.9"/>
<line x1="421.3" y1="212.00" x2="421.3" y2="215.20" stroke="#34548a" stroke-width="0.9"/>
<line x1="449.7" y1="217.40" x2="449.7" y2="220.60" stroke="#34548a" stroke-width="0.9"/>
<line x1="480.7" y1="224.30" x2="480.7" y2="227.50" stroke="#34548a" stroke-width="0.9"/>
<line x1="482.6" y1="224.30" x2="482.6" y2="227.50" stroke="#34548a" stroke-width="0.9"/>
<line x1="484.5" y1="224.30" x2="484.5" y2="227.50" stroke="#34548a" stroke-width="0.9"/>
<line x1="486.4" y1="224.30" x2="486.4" y2="227.50" stroke="#34548a" stroke-width="0.9"/>
<line x1="488.8" y1="224.30" x2="488.8" y2="227.50" stroke="#34548a" stroke-width="0.9"/>
<line x1="490.8" y1="224.30" x2="490.8" y2="227.50" stroke="#34548a" stroke-width="0.9"/>
<line x1="492.2" y1="224.30" x2="492.2" y2="227.50" stroke="#34548a" stroke-width="0.9"/>
<line x1="495.1" y1="224.30" x2="495.1" y2="227.50" stroke="#34548a" stroke-width="0.9"/>
<line x1="498" y1="224.30" x2="498" y2="227.50" stroke="#34548a" stroke-width="0.9"/>
<path d="M340.2 209.9 H344.0 V213.2 H345.2 V216.5 H355.5 V219.6 H419.1 V223.2 H466.2 V232.4 H495.0" fill="none" stroke="#ac2234" stroke-width="1.3"/>
<line x1="352.9" y1="214.90" x2="352.9" y2="218.10" stroke="#ac2234" stroke-width="0.9"/>
<line x1="372.5" y1="218.00" x2="372.5" y2="221.20" stroke="#ac2234" stroke-width="0.9"/>
<line x1="373.8" y1="218.00" x2="373.8" y2="221.20" stroke="#ac2234" stroke-width="0.9"/>
<line x1="444.9" y1="221.60" x2="444.9" y2="224.80" stroke="#ac2234" stroke-width="0.9"/>
<line x1="450.7" y1="221.60" x2="450.7" y2="224.80" stroke="#ac2234" stroke-width="0.9"/>
<line x1="452" y1="221.60" x2="452" y2="224.80" stroke="#ac2234" stroke-width="0.9"/>
<line x1="453.1" y1="221.60" x2="453.1" y2="224.80" stroke="#ac2234" stroke-width="0.9"/>
<line x1="456.4" y1="221.60" x2="456.4" y2="224.80" stroke="#ac2234" stroke-width="0.9"/>
<line x1="457.9" y1="221.60" x2="457.9" y2="224.80" stroke="#ac2234" stroke-width="0.9"/>
<line x1="461.7" y1="221.60" x2="461.7" y2="224.80" stroke="#ac2234" stroke-width="0.9"/>
<line x1="463.2" y1="221.60" x2="463.2" y2="224.80" stroke="#ac2234" stroke-width="0.9"/>
<line x1="480.7" y1="230.80" x2="480.7" y2="234.00" stroke="#ac2234" stroke-width="0.9"/>
<line x1="483.1" y1="230.80" x2="483.1" y2="234.00" stroke="#ac2234" stroke-width="0.9"/>
<line x1="493.2" y1="230.80" x2="493.2" y2="234.00" stroke="#ac2234" stroke-width="0.9"/>
<text x="298.75" y="329.5" font-size="7.4" textLength="30.5" lengthAdjust="spacingAndGlyphs" fill="#231f20" stroke="#231f20" stroke-width="0.18">No. at risk</text>
<text x="273.25" y="339.3" font-size="7.4" textLength="51.75" lengthAdjust="spacingAndGlyphs" fill="#231f20" stroke="#231f20" stroke-width="0.18">No Interruption</text>
<text x="288.75" y="349.6" font-size="7.4" textLength="40.5" lengthAdjust="spacingAndGlyphs" fill="#231f20" stroke="#231f20" stroke-width="0.18">Interruptions</text>
<text x="340.2" y="339.3" font-size="6.9" text-anchor="middle" fill="#231f20" stroke="#231f20" stroke-width="0.18">52</text>
<text x="366.66" y="339.3" font-size="6.9" text-anchor="middle" fill="#231f20" stroke="#231f20" stroke-width="0.18">51</text>
<text x="393.12" y="339.3" font-size="6.9" text-anchor="middle" fill="#231f20" stroke="#231f20" stroke-width="0.18">47</text>
<text x="419.58" y="339.3" font-size="6.9" text-anchor="middle" fill="#231f20" stroke="#231f20" stroke-width="0.18">46</text>
<text x="446.04" y="339.3" font-size="6.9" text-anchor="middle" fill="#231f20" stroke="#231f20" stroke-width="0.18">41</text>
<text x="472.5" y="339.3" font-size="6.9" text-anchor="middle" fill="#231f20" stroke="#231f20" stroke-width="0.18">24</text>
<text x="340.2" y="349.8" font-size="6.9" text-anchor="middle" fill="#231f20" stroke="#231f20" stroke-width="0.18">28</text>
<text x="366.66" y="349.8" font-size="6.9" text-anchor="middle" fill="#231f20" stroke="#231f20" stroke-width="0.18">24</text>
<text x="393.12" y="349.8" font-size="6.9" text-anchor="middle" fill="#231f20" stroke="#231f20" stroke-width="0.18">21</text>
<text x="419.58" y="349.8" font-size="6.9" text-anchor="middle" fill="#231f20" stroke="#231f20" stroke-width="0.18">20</text>
<text x="446.04" y="349.8" font-size="6.9" text-anchor="middle" fill="#231f20" stroke="#231f20" stroke-width="0.18">19</text>
<text x="472.5" y="349.8" font-size="6.9" text-anchor="middle" fill="#231f20" stroke="#231f20" stroke-width="0.18">6</text>
<line x1="86.1" y1="379.7" x2="86.1" y2="468.6" stroke="#231f20" stroke-width="1.2"/>
<line x1="85.5" y1="468.0" x2="247.4" y2="468.0" stroke="#231f20" stroke-width="1.2"/>
<line x1="82.89999999999999" y1="468.0" x2="86.1" y2="468.0" stroke="#231f20" stroke-width="1"/>
<text x="79.2" y="470.45" font-size="8.0" text-anchor="end" textLength="3.95" lengthAdjust="spacingAndGlyphs" fill="#231f20" stroke="#231f20" stroke-width="0.18">0</text>
<line x1="82.89999999999999" y1="450.94" x2="86.1" y2="450.94" stroke="#231f20" stroke-width="1"/>
<text x="79.2" y="453.39" font-size="8.0" text-anchor="end" textLength="7.9" lengthAdjust="spacingAndGlyphs" fill="#231f20" stroke="#231f20" stroke-width="0.18">20</text>
<line x1="82.89999999999999" y1="433.88" x2="86.1" y2="433.88" stroke="#231f20" stroke-width="1"/>
<text x="79.2" y="436.33" font-size="8.0" text-anchor="end" textLength="7.9" lengthAdjust="spacingAndGlyphs" fill="#231f20" stroke="#231f20" stroke-width="0.18">40</text>
<line x1="82.89999999999999" y1="416.82" x2="86.1" y2="416.82" stroke="#231f20" stroke-width="1"/>
<text x="79.2" y="419.27" font-size="8.0" text-anchor="end" textLength="7.9" lengthAdjust="spacingAndGlyphs" fill="#231f20" stroke="#231f20" stroke-width="0.18">60</text>
<line x1="82.89999999999999" y1="399.76" x2="86.1" y2="399.76" stroke="#231f20" stroke-width="1"/>
<text x="79.2" y="402.21" font-size="8.0" text-anchor="end" textLength="7.9" lengthAdjust="spacingAndGlyphs" fill="#231f20" stroke="#231f20" stroke-width="0.18">80</text>
<line x1="82.89999999999999" y1="382.7" x2="86.1" y2="382.7" stroke="#231f20" stroke-width="1"/>
<text x="79.2" y="385.15" font-size="8.0" text-anchor="end" textLength="11.85" lengthAdjust="spacingAndGlyphs" fill="#231f20" stroke="#231f20" stroke-width="0.18">100</text>
<line x1="86.0" y1="468.0" x2="86.0" y2="470.4" stroke="#231f20" stroke-width="1"/>
<text x="86.0" y="480.9" font-size="7.9" text-anchor="middle" textLength="7.7" lengthAdjust="spacingAndGlyphs" fill="#231f20" stroke="#231f20" stroke-width="0.18">12</text>
<line x1="115.32" y1="468.0" x2="115.32" y2="470.4" stroke="#231f20" stroke-width="1"/>
<text x="115.32" y="480.9" font-size="7.9" text-anchor="middle" textLength="7.7" lengthAdjust="spacingAndGlyphs" fill="#231f20" stroke="#231f20" stroke-width="0.18">24</text>
<line x1="144.64" y1="468.0" x2="144.64" y2="470.4" stroke="#231f20" stroke-width="1"/>
<text x="144.64" y="480.9" font-size="7.9" text-anchor="middle" textLength="7.7" lengthAdjust="spacingAndGlyphs" fill="#231f20" stroke="#231f20" stroke-width="0.18">36</text>
<line x1="173.96" y1="468.0" x2="173.96" y2="470.4" stroke="#231f20" stroke-width="1"/>
<text x="173.96" y="480.9" font-size="7.9" text-anchor="middle" textLength="7.7" lengthAdjust="spacingAndGlyphs" fill="#231f20" stroke="#231f20" stroke-width="0.18">48</text>
<line x1="203.28" y1="468.0" x2="203.28" y2="470.4" stroke="#231f20" stroke-width="1"/>
<text x="203.28" y="480.9" font-size="7.9" text-anchor="middle" textLength="7.7" lengthAdjust="spacingAndGlyphs" fill="#231f20" stroke="#231f20" stroke-width="0.18">60</text>
<line x1="232.6" y1="468.0" x2="232.6" y2="470.4" stroke="#231f20" stroke-width="1"/>
<text x="232.6" y="480.9" font-size="7.9" text-anchor="middle" textLength="7.7" lengthAdjust="spacingAndGlyphs" fill="#231f20" stroke="#231f20" stroke-width="0.18">72</text>
<text x="114.0" y="372.9" font-size="8.2" textLength="104.5" lengthAdjust="spacingAndGlyphs" fill="#231f20" stroke="#231f20" stroke-width="0.18">PFS by 1-year dose interruption</text>
<text x="139.4" y="494.40000000000003" font-size="9.9" textLength="67" lengthAdjust="spacingAndGlyphs" fill="#231f20" stroke="#231f20" stroke-width="0.18">Months on study</text>
<text transform="translate(60.8 424.1) rotate(-90)" font-size="9.6" text-anchor="middle" textLength="29.8" stroke="#231f20" stroke-width="0.18" lengthAdjust="spacingAndGlyphs" fill="#231f20">PFS (%)</text>
<text x="92.3" y="430.6" font-size="7.7" textLength="54.6" lengthAdjust="spacingAndGlyphs" fill="#231f20" stroke="#231f20" stroke-width="0.18">Drug interruption</text>
<text x="99.0" y="439.5" font-size="7.7" textLength="40.7" lengthAdjust="spacingAndGlyphs" fill="#231f20" stroke="#231f20" stroke-width="0.18">within 1 year</text>
<text x="186.8" y="436.8" font-size="7.7" textLength="23.4" lengthAdjust="spacingAndGlyphs" fill="#231f20" stroke="#231f20" stroke-width="0.18">P = 0.9</text>
<line x1="104.4" y1="449.2" x2="116.5" y2="449.2" stroke="#34548a" stroke-width="1.3"/>
<line x1="104.4" y1="456.8" x2="116.5" y2="456.8" stroke="#ac2234" stroke-width="1.3"/>
<text x="119.8" y="451.4" font-size="8.2" textLength="9.6" lengthAdjust="spacingAndGlyphs" fill="#231f20" stroke="#231f20" stroke-width="0.18">No</text>
<text x="119.6" y="459.0" font-size="8.2" textLength="11.8" lengthAdjust="spacingAndGlyphs" fill="#231f20" stroke="#231f20" stroke-width="0.18">Yes</text>
<path d="M86.1 382.7 H93.8 V385.0 H124.6 V387.3 H146.8 V389.9 H161.3 V392.0 H163.7 V394.9 H172.3 V397.8 H173.3 V400.2 H176.3 V402.7 H182.5 V406.3 H190.4 V408.9 H201.4 V410.4 H202.9 V411.9 H241.0" fill="none" stroke="#34548a" stroke-width="1.3"/>
<line x1="118.2" y1="383.40" x2="118.2" y2="386.60" stroke="#34548a" stroke-width="0.9"/>
<line x1="128.6" y1="385.70" x2="128.6" y2="388.90" stroke="#34548a" stroke-width="0.9"/>
<line x1="135.3" y1="385.70" x2="135.3" y2="388.90" stroke="#34548a" stroke-width="0.9"/>
<line x1="158.4" y1="388.30" x2="158.4" y2="391.50" stroke="#34548a" stroke-width="0.9"/>
<line x1="197.6" y1="407.30" x2="197.6" y2="410.50" stroke="#34548a" stroke-width="0.9"/>
<line x1="205.3" y1="410.30" x2="205.3" y2="413.50" stroke="#34548a" stroke-width="0.9"/>
<line x1="207" y1="410.30" x2="207" y2="413.50" stroke="#34548a" stroke-width="0.9"/>
<line x1="208.8" y1="410.30" x2="208.8" y2="413.50" stroke="#34548a" stroke-width="0.9"/>
<line x1="210.6" y1="410.30" x2="210.6" y2="413.50" stroke="#34548a" stroke-width="0.9"/>
<line x1="227.1" y1="410.30" x2="227.1" y2="413.50" stroke="#34548a" stroke-width="0.9"/>
<line x1="229" y1="410.30" x2="229" y2="413.50" stroke="#34548a" stroke-width="0.9"/>
<line x1="231" y1="410.30" x2="231" y2="413.50" stroke="#34548a" stroke-width="0.9"/>
<line x1="233.8" y1="410.30" x2="233.8" y2="413.50" stroke="#34548a" stroke-width="0.9"/>
<line x1="235.5" y1="410.30" x2="235.5" y2="413.50" stroke="#34548a" stroke-width="0.9"/>
<line x1="237.2" y1="410.30" x2="237.2" y2="413.50" stroke="#34548a" stroke-width="0.9"/>
<line x1="239" y1="410.30" x2="239" y2="413.50" stroke="#34548a" stroke-width="0.9"/>
<line x1="240.6" y1="410.30" x2="240.6" y2="413.50" stroke="#34548a" stroke-width="0.9"/>
<path d="M86.1 382.7 H88.4 V385.0 H92.2 V387.3 H114.3 V389.5 H139.1 V392.0 H150.2 V394.4 H151.2 V399.2 H156.4 V401.6 H165.1 V404.1 H231.9 V413.0 H246.8" fill="none" stroke="#ac2234" stroke-width="1.3"/>
<line x1="106.6" y1="385.70" x2="106.6" y2="388.90" stroke="#ac2234" stroke-width="0.9"/>
<line x1="108.4" y1="385.70" x2="108.4" y2="388.90" stroke="#ac2234" stroke-width="0.9"/>
<line x1="161.3" y1="400.00" x2="161.3" y2="403.20" stroke="#ac2234" stroke-width="0.9"/>
<line x1="187.5" y1="402.50" x2="187.5" y2="405.70" stroke="#ac2234" stroke-width="0.9"/>
<line x1="193.8" y1="402.50" x2="193.8" y2="405.70" stroke="#ac2234" stroke-width="0.9"/>
<line x1="195.7" y1="402.50" x2="195.7" y2="405.70" stroke="#ac2234" stroke-width="0.9"/>
<line x1="198.6" y1="402.50" x2="198.6" y2="405.70" stroke="#ac2234" stroke-width="0.9"/>
<line x1="200.5" y1="402.50" x2="200.5" y2="405.70" stroke="#ac2234" stroke-width="0.9"/>
<line x1="205.8" y1="402.50" x2="205.8" y2="405.70" stroke="#ac2234" stroke-width="0.9"/>
<line x1="207.2" y1="402.50" x2="207.2" y2="405.70" stroke="#ac2234" stroke-width="0.9"/>
<line x1="210.6" y1="402.50" x2="210.6" y2="405.70" stroke="#ac2234" stroke-width="0.9"/>
<line x1="226.6" y1="402.50" x2="226.6" y2="405.70" stroke="#ac2234" stroke-width="0.9"/>
<line x1="228.6" y1="402.50" x2="228.6" y2="405.70" stroke="#ac2234" stroke-width="0.9"/>
<line x1="230.5" y1="402.50" x2="230.5" y2="405.70" stroke="#ac2234" stroke-width="0.9"/>
<line x1="232.9" y1="411.40" x2="232.9" y2="414.60" stroke="#ac2234" stroke-width="0.9"/>
<line x1="240.6" y1="411.40" x2="240.6" y2="414.60" stroke="#ac2234" stroke-width="0.9"/>
<line x1="245.4" y1="411.40" x2="245.4" y2="414.60" stroke="#ac2234" stroke-width="0.9"/>
<text x="32.5" y="502.6" font-size="7.4" textLength="30.0" lengthAdjust="spacingAndGlyphs" fill="#231f20" stroke="#231f20" stroke-width="0.18">No. at risk</text>
<text x="13.0" y="514.6" font-size="7.4" textLength="48.75" lengthAdjust="spacingAndGlyphs" fill="#231f20" stroke="#231f20" stroke-width="0.18">No Interruption</text>
<text x="23.25" y="525.6" font-size="7.4" textLength="40.5" lengthAdjust="spacingAndGlyphs" fill="#231f20" stroke="#231f20" stroke-width="0.18">Interruptions</text>
<text x="86.0" y="514.6" font-size="6.9" text-anchor="middle" fill="#231f20" stroke="#231f20" stroke-width="0.18">37</text>
<text x="115.32" y="514.6" font-size="6.9" text-anchor="middle" fill="#231f20" stroke="#231f20" stroke-width="0.18">36</text>
<text x="144.64" y="514.6" font-size="6.9" text-anchor="middle" fill="#231f20" stroke="#231f20" stroke-width="0.18">32</text>
<text x="173.96" y="514.6" font-size="6.9" text-anchor="middle" fill="#231f20" stroke="#231f20" stroke-width="0.18">25</text>
<text x="203.28" y="514.6" font-size="6.9" text-anchor="middle" fill="#231f20" stroke="#231f20" stroke-width="0.18">18</text>
<text x="232.6" y="514.6" font-size="6.9" text-anchor="middle" fill="#231f20" stroke="#231f20" stroke-width="0.18">8</text>
<text x="86.0" y="525.8" font-size="6.9" text-anchor="middle" fill="#231f20" stroke="#231f20" stroke-width="0.18">39</text>
<text x="115.32" y="525.8" font-size="6.9" text-anchor="middle" fill="#231f20" stroke="#231f20" stroke-width="0.18">33</text>
<text x="144.64" y="525.8" font-size="6.9" text-anchor="middle" fill="#231f20" stroke="#231f20" stroke-width="0.18">32</text>
<text x="173.96" y="525.8" font-size="6.9" text-anchor="middle" fill="#231f20" stroke="#231f20" stroke-width="0.18">26</text>
<text x="203.28" y="525.8" font-size="6.9" text-anchor="middle" fill="#231f20" stroke="#231f20" stroke-width="0.18">16</text>
<text x="232.6" y="525.8" font-size="6.9" text-anchor="middle" fill="#231f20" stroke="#231f20" stroke-width="0.18">5</text>
<line x1="340.1" y1="379.6" x2="340.1" y2="468.6" stroke="#231f20" stroke-width="1.2"/>
<line x1="339.5" y1="468.0" x2="500.2" y2="468.0" stroke="#231f20" stroke-width="1.2"/>
<line x1="336.90000000000003" y1="468.0" x2="340.1" y2="468.0" stroke="#231f20" stroke-width="1"/>
<text x="332.7" y="470.45" font-size="8.0" text-anchor="end" textLength="3.95" lengthAdjust="spacingAndGlyphs" fill="#231f20" stroke="#231f20" stroke-width="0.18">0</text>
<line x1="336.90000000000003" y1="450.92" x2="340.1" y2="450.92" stroke="#231f20" stroke-width="1"/>
<text x="332.7" y="453.37" font-size="8.0" text-anchor="end" textLength="7.9" lengthAdjust="spacingAndGlyphs" fill="#231f20" stroke="#231f20" stroke-width="0.18">20</text>
<line x1="336.90000000000003" y1="433.84" x2="340.1" y2="433.84" stroke="#231f20" stroke-width="1"/>
<text x="332.7" y="436.29" font-size="8.0" text-anchor="end" textLength="7.9" lengthAdjust="spacingAndGlyphs" fill="#231f20" stroke="#231f20" stroke-width="0.18">40</text>
<line x1="336.90000000000003" y1="416.76" x2="340.1" y2="416.76" stroke="#231f20" stroke-width="1"/>
<text x="332.7" y="419.21" font-size="8.0" text-anchor="end" textLength="7.9" lengthAdjust="spacingAndGlyphs" fill="#231f20" stroke="#231f20" stroke-width="0.18">60</text>
<line x1="336.90000000000003" y1="399.68" x2="340.1" y2="399.68" stroke="#231f20" stroke-width="1"/>
<text x="332.7" y="402.13" font-size="8.0" text-anchor="end" textLength="7.9" lengthAdjust="spacingAndGlyphs" fill="#231f20" stroke="#231f20" stroke-width="0.18">80</text>
<line x1="336.90000000000003" y1="382.6" x2="340.1" y2="382.6" stroke="#231f20" stroke-width="1"/>
<text x="332.7" y="385.05" font-size="8.0" text-anchor="end" textLength="11.85" lengthAdjust="spacingAndGlyphs" fill="#231f20" stroke="#231f20" stroke-width="0.18">100</text>
<line x1="339.9" y1="468.0" x2="339.9" y2="470.4" stroke="#231f20" stroke-width="1"/>
<text x="339.9" y="480.9" font-size="7.9" text-anchor="middle" textLength="7.7" lengthAdjust="spacingAndGlyphs" fill="#231f20" stroke="#231f20" stroke-width="0.18">12</text>
<line x1="369.0" y1="468.0" x2="369.0" y2="470.4" stroke="#231f20" stroke-width="1"/>
<text x="369.0" y="480.9" font-size="7.9" text-anchor="middle" textLength="7.7" lengthAdjust="spacingAndGlyphs" fill="#231f20" stroke="#231f20" stroke-width="0.18">24</text>
<line x1="398.1" y1="468.0" x2="398.1" y2="470.4" stroke="#231f20" stroke-width="1"/>
<text x="398.1" y="480.9" font-size="7.9" text-anchor="middle" textLength="7.7" lengthAdjust="spacingAndGlyphs" fill="#231f20" stroke="#231f20" stroke-width="0.18">36</text>
<line x1="427.2" y1="468.0" x2="427.2" y2="470.4" stroke="#231f20" stroke-width="1"/>
<text x="427.2" y="480.9" font-size="7.9" text-anchor="middle" textLength="7.7" lengthAdjust="spacingAndGlyphs" fill="#231f20" stroke="#231f20" stroke-width="0.18">48</text>
<line x1="456.3" y1="468.0" x2="456.3" y2="470.4" stroke="#231f20" stroke-width="1"/>
<text x="456.3" y="480.9" font-size="7.9" text-anchor="middle" textLength="7.7" lengthAdjust="spacingAndGlyphs" fill="#231f20" stroke="#231f20" stroke-width="0.18">60</text>
<line x1="485.4" y1="468.0" x2="485.4" y2="470.4" stroke="#231f20" stroke-width="1"/>
<text x="485.4" y="480.9" font-size="7.9" text-anchor="middle" textLength="7.7" lengthAdjust="spacingAndGlyphs" fill="#231f20" stroke="#231f20" stroke-width="0.18">72</text>
<text x="361.7" y="372.9" font-size="8.2" textLength="102.3" lengthAdjust="spacingAndGlyphs" fill="#231f20" stroke="#231f20" stroke-width="0.18">OS by 1-year dose interruption</text>
<text x="387.90000000000003" y="494.40000000000003" font-size="9.9" textLength="67" lengthAdjust="spacingAndGlyphs" fill="#231f20" stroke="#231f20" stroke-width="0.18">Months on study</text>
<text transform="translate(315.2 425.7) rotate(-90)" font-size="9.6" text-anchor="middle" textLength="26.5" stroke="#231f20" stroke-width="0.18" lengthAdjust="spacingAndGlyphs" fill="#231f20">OS (%)</text>
<text x="350.0" y="434.1" font-size="7.7" textLength="54.6" lengthAdjust="spacingAndGlyphs" fill="#231f20" stroke="#231f20" stroke-width="0.18">Drug interruption</text>
<text x="357.0" y="442.8" font-size="7.7" textLength="40.3" lengthAdjust="spacingAndGlyphs" fill="#231f20" stroke="#231f20" stroke-width="0.18">within 1 year</text>
<text x="440.2" y="436.8" font-size="7.7" textLength="23.7" lengthAdjust="spacingAndGlyphs" fill="#231f20" stroke="#231f20" stroke-width="0.18">P = 0.3</text>
<line x1="364.2" y1="452.2" x2="375.5" y2="452.2" stroke="#34548a" stroke-width="1.3"/>
<line x1="364.2" y1="459.5" x2="375.5" y2="459.5" stroke="#ac2234" stroke-width="1.3"/>
<text x="379.6" y="454.4" font-size="8.2" textLength="9.6" lengthAdjust="spacingAndGlyphs" fill="#231f20" stroke="#231f20" stroke-width="0.18">No</text>
<text x="379.4" y="462.1" font-size="8.2" textLength="11.8" lengthAdjust="spacingAndGlyphs" fill="#231f20" stroke="#231f20" stroke-width="0.18">Yes</text>
<path d="M340.1 382.6 H366.4 V385.1 H416.3 V387.5 H449.2 V388.8 H450.2 V390.4 H477.1 V394.6 H495.8" fill="none" stroke="#34548a" stroke-width="1.3"/>
<line x1="372.4" y1="383.50" x2="372.4" y2="386.70" stroke="#34548a" stroke-width="0.9"/>
<line x1="382.7" y1="383.50" x2="382.7" y2="386.70" stroke="#34548a" stroke-width="0.9"/>
<line x1="412.9" y1="383.50" x2="412.9" y2="386.70" stroke="#34548a" stroke-width="0.9"/>
<line x1="417.7" y1="385.90" x2="417.7" y2="389.10" stroke="#34548a" stroke-width="0.9"/>
<line x1="446.8" y1="385.90" x2="446.8" y2="389.10" stroke="#34548a" stroke-width="0.9"/>
<line x1="452.1" y1="388.80" x2="452.1" y2="392.00" stroke="#34548a" stroke-width="0.9"/>
<line x1="456" y1="388.80" x2="456" y2="392.00" stroke="#34548a" stroke-width="0.9"/>
<line x1="458.8" y1="388.80" x2="458.8" y2="392.00" stroke="#34548a" stroke-width="0.9"/>
<line x1="460.7" y1="388.80" x2="460.7" y2="392.00" stroke="#34548a" stroke-width="0.9"/>
<line x1="462.6" y1="388.80" x2="462.6" y2="392.00" stroke="#34548a" stroke-width="0.9"/>
<line x1="464.6" y1="388.80" x2="464.6" y2="392.00" stroke="#34548a" stroke-width="0.9"/>
<line x1="481.3" y1="393.00" x2="481.3" y2="396.20" stroke="#34548a" stroke-width="0.9"/>
<line x1="483.8" y1="393.00" x2="483.8" y2="396.20" stroke="#34548a" stroke-width="0.9"/>
<line x1="486.3" y1="393.00" x2="486.3" y2="396.20" stroke="#34548a" stroke-width="0.9"/>
<line x1="488.8" y1="393.00" x2="488.8" y2="396.20" stroke="#34548a" stroke-width="0.9"/>
<line x1="491.3" y1="393.00" x2="491.3" y2="396.20" stroke="#34548a" stroke-width="0.9"/>
<line x1="493.5" y1="393.00" x2="493.5" y2="396.20" stroke="#34548a" stroke-width="0.9"/>
<line x1="494.8" y1="393.00" x2="494.8" y2="396.20" stroke="#34548a" stroke-width="0.9"/>
<path d="M340.1 382.6 H342.3 V384.6 H366.8 V387.4 H413.4 V389.7 H418.7 V392.3 H429.2 V394.5 H448.8 V395.9 H450.2 V397.3 H465.2 V402.5 H501.5" fill="none" stroke="#ac2234" stroke-width="1.3"/>
<line x1="347.1" y1="383.00" x2="347.1" y2="386.20" stroke="#ac2234" stroke-width="0.9"/>
<line x1="360.6" y1="383.00" x2="360.6" y2="386.20" stroke="#ac2234" stroke-width="0.9"/>
<line x1="362" y1="383.00" x2="362" y2="386.20" stroke="#ac2234" stroke-width="0.9"/>
<line x1="363.5" y1="383.00" x2="363.5" y2="386.20" stroke="#ac2234" stroke-width="0.9"/>
<line x1="415.6" y1="388.10" x2="415.6" y2="391.30" stroke="#ac2234" stroke-width="0.9"/>
<line x1="441.5" y1="392.90" x2="441.5" y2="396.10" stroke="#ac2234" stroke-width="0.9"/>
<line x1="447.8" y1="392.90" x2="447.8" y2="396.10" stroke="#ac2234" stroke-width="0.9"/>
<line x1="452.6" y1="395.70" x2="452.6" y2="398.90" stroke="#ac2234" stroke-width="0.9"/>
<line x1="454" y1="395.70" x2="454" y2="398.90" stroke="#ac2234" stroke-width="0.9"/>
<line x1="455" y1="395.70" x2="455" y2="398.90" stroke="#ac2234" stroke-width="0.9"/>
<line x1="458.8" y1="395.70" x2="458.8" y2="398.90" stroke="#ac2234" stroke-width="0.9"/>
<line x1="460.2" y1="395.70" x2="460.2" y2="398.90" stroke="#ac2234" stroke-width="0.9"/>
<line x1="461.7" y1="395.70" x2="461.7" y2="398.90" stroke="#ac2234" stroke-width="0.9"/>
<line x1="480.4" y1="400.90" x2="480.4" y2="404.10" stroke="#ac2234" stroke-width="0.9"/>
<line x1="482.8" y1="400.90" x2="482.8" y2="404.10" stroke="#ac2234" stroke-width="0.9"/>
<line x1="484.5" y1="400.90" x2="484.5" y2="404.10" stroke="#ac2234" stroke-width="0.9"/>
<line x1="486.2" y1="400.90" x2="486.2" y2="404.10" stroke="#ac2234" stroke-width="0.9"/>
<line x1="487.1" y1="400.90" x2="487.1" y2="404.10" stroke="#ac2234" stroke-width="0.9"/>
<line x1="493.4" y1="400.90" x2="493.4" y2="404.10" stroke="#ac2234" stroke-width="0.9"/>
<line x1="494.6" y1="400.90" x2="494.6" y2="404.10" stroke="#ac2234" stroke-width="0.9"/>
<line x1="495.8" y1="400.90" x2="495.8" y2="404.10" stroke="#ac2234" stroke-width="0.9"/>
<line x1="499.1" y1="400.90" x2="499.1" y2="404.10" stroke="#ac2234" stroke-width="0.9"/>
<text x="288.75" y="504.6" font-size="7.4" textLength="30.5" lengthAdjust="spacingAndGlyphs" fill="#231f20" stroke="#231f20" stroke-width="0.18">No. at risk</text>
<text x="271.25" y="515.1" font-size="7.4" textLength="48.0" lengthAdjust="spacingAndGlyphs" fill="#231f20" stroke="#231f20" stroke-width="0.18">No Interruption</text>
<text x="280.0" y="526.3" font-size="7.4" textLength="40.75" lengthAdjust="spacingAndGlyphs" fill="#231f20" stroke="#231f20" stroke-width="0.18">Interruptions</text>
<text x="339.9" y="515.1" font-size="6.9" text-anchor="middle" fill="#231f20" stroke="#231f20" stroke-width="0.18">37</text>
<text x="369.0" y="515.1" font-size="6.9" text-anchor="middle" fill="#231f20" stroke="#231f20" stroke-width="0.18">36</text>
<text x="398.1" y="515.1" font-size="6.9" text-anchor="middle" fill="#231f20" stroke="#231f20" stroke-width="0.18">34</text>
<text x="427.2" y="515.1" font-size="6.9" text-anchor="middle" fill="#231f20" stroke="#231f20" stroke-width="0.18">31</text>
<text x="456.3" y="515.1" font-size="6.9" text-anchor="middle" fill="#231f20" stroke="#231f20" stroke-width="0.18">25</text>
<text x="485.4" y="515.1" font-size="6.9" text-anchor="middle" fill="#231f20" stroke="#231f20" stroke-width="0.18">9</text>
<text x="339.9" y="526.3" font-size="6.9" text-anchor="middle" fill="#231f20" stroke="#231f20" stroke-width="0.18">40</text>
<text x="369.0" y="526.3" font-size="6.9" text-anchor="middle" fill="#231f20" stroke="#231f20" stroke-width="0.18">35</text>
<text x="398.1" y="526.3" font-size="6.9" text-anchor="middle" fill="#231f20" stroke="#231f20" stroke-width="0.18">34</text>
<text x="427.2" y="526.3" font-size="6.9" text-anchor="middle" fill="#231f20" stroke="#231f20" stroke-width="0.18">31</text>
<text x="456.3" y="526.3" font-size="6.9" text-anchor="middle" fill="#231f20" stroke="#231f20" stroke-width="0.18">19</text>
<text x="485.4" y="526.3" font-size="6.9" text-anchor="middle" fill="#231f20" stroke="#231f20" stroke-width="0.18">7</text>
<line x1="86.0" y1="550.0" x2="86.0" y2="638.1" stroke="#231f20" stroke-width="1.2"/>
<line x1="85.4" y1="637.5" x2="235.6" y2="637.5" stroke="#231f20" stroke-width="1.2"/>
<line x1="82.8" y1="637.5" x2="86.0" y2="637.5" stroke="#231f20" stroke-width="1"/>
<text x="79.2" y="639.95" font-size="8.0" text-anchor="end" textLength="3.95" lengthAdjust="spacingAndGlyphs" fill="#231f20" stroke="#231f20" stroke-width="0.18">0</text>
<line x1="82.8" y1="620.6" x2="86.0" y2="620.6" stroke="#231f20" stroke-width="1"/>
<text x="79.2" y="623.05" font-size="8.0" text-anchor="end" textLength="7.9" lengthAdjust="spacingAndGlyphs" fill="#231f20" stroke="#231f20" stroke-width="0.18">20</text>
<line x1="82.8" y1="603.7" x2="86.0" y2="603.7" stroke="#231f20" stroke-width="1"/>
<text x="79.2" y="606.15" font-size="8.0" text-anchor="end" textLength="7.9" lengthAdjust="spacingAndGlyphs" fill="#231f20" stroke="#231f20" stroke-width="0.18">40</text>
<line x1="82.8" y1="586.8" x2="86.0" y2="586.8" stroke="#231f20" stroke-width="1"/>
<text x="79.2" y="589.25" font-size="8.0" text-anchor="end" textLength="7.9" lengthAdjust="spacingAndGlyphs" fill="#231f20" stroke="#231f20" stroke-width="0.18">60</text>
<line x1="82.8" y1="569.9" x2="86.0" y2="569.9" stroke="#231f20" stroke-width="1"/>
<text x="79.2" y="572.35" font-size="8.0" text-anchor="end" textLength="7.9" lengthAdjust="spacingAndGlyphs" fill="#231f20" stroke="#231f20" stroke-width="0.18">80</text>
<line x1="82.8" y1="553.0" x2="86.0" y2="553.0" stroke="#231f20" stroke-width="1"/>
<text x="79.2" y="555.45" font-size="8.0" text-anchor="end" textLength="11.85" lengthAdjust="spacingAndGlyphs" fill="#231f20" stroke="#231f20" stroke-width="0.18">100</text>
<line x1="86.0" y1="637.5" x2="86.0" y2="639.9" stroke="#231f20" stroke-width="1"/>
<text x="86.0" y="650.4" font-size="7.9" text-anchor="middle" textLength="3.85" lengthAdjust="spacingAndGlyphs" fill="#231f20" stroke="#231f20" stroke-width="0.18">2</text>
<line x1="110.3" y1="637.5" x2="110.3" y2="639.9" stroke="#231f20" stroke-width="1"/>
<text x="110.3" y="650.4" font-size="7.9" text-anchor="middle" textLength="7.7" lengthAdjust="spacingAndGlyphs" fill="#231f20" stroke="#231f20" stroke-width="0.18">12</text>
<line x1="134.6" y1="637.5" x2="134.6" y2="639.9" stroke="#231f20" stroke-width="1"/>
<text x="134.6" y="650.4" font-size="7.9" text-anchor="middle" textLength="7.7" lengthAdjust="spacingAndGlyphs" fill="#231f20" stroke="#231f20" stroke-width="0.18">24</text>
<line x1="158.9" y1="637.5" x2="158.9" y2="639.9" stroke="#231f20" stroke-width="1"/>
<text x="158.9" y="650.4" font-size="7.9" text-anchor="middle" textLength="7.7" lengthAdjust="spacingAndGlyphs" fill="#231f20" stroke="#231f20" stroke-width="0.18">36</text>
<line x1="183.2" y1="637.5" x2="183.2" y2="639.9" stroke="#231f20" stroke-width="1"/>
<text x="183.2" y="650.4" font-size="7.9" text-anchor="middle" textLength="7.7" lengthAdjust="spacingAndGlyphs" fill="#231f20" stroke="#231f20" stroke-width="0.18">48</text>
<line x1="207.5" y1="637.5" x2="207.5" y2="639.9" stroke="#231f20" stroke-width="1"/>
<text x="207.5" y="650.4" font-size="7.9" text-anchor="middle" textLength="7.7" lengthAdjust="spacingAndGlyphs" fill="#231f20" stroke="#231f20" stroke-width="0.18">60</text>
<line x1="231.8" y1="637.5" x2="231.8" y2="639.9" stroke="#231f20" stroke-width="1"/>
<text x="231.8" y="650.4" font-size="7.9" text-anchor="middle" textLength="7.7" lengthAdjust="spacingAndGlyphs" fill="#231f20" stroke="#231f20" stroke-width="0.18">72</text>
<text x="0" y="0" font-size="8.2" fill="#231f20" stroke="#231f20" stroke-width="0.18"> </text>
<text x="133.7" y="664.0" font-size="9.9" textLength="67" lengthAdjust="spacingAndGlyphs" fill="#231f20" stroke="#231f20" stroke-width="0.18">Months on study</text>
<text transform="translate(60.8 595.3) rotate(-90)" font-size="9.6" text-anchor="middle" textLength="29.5" stroke="#231f20" stroke-width="0.18" lengthAdjust="spacingAndGlyphs" fill="#231f20">PFS (%)</text>
<text x="187.3" y="611.0999999999999" font-size="7.7" textLength="22.9" lengthAdjust="spacingAndGlyphs" fill="#231f20" stroke="#231f20" stroke-width="0.18">P = 0.6</text>
<line x1="95.8" y1="613.5" x2="106.5" y2="613.5" stroke="#34548a" stroke-width="1.3"/>
<line x1="95.8" y1="624.2" x2="106.5" y2="624.2" stroke="#ac2234" stroke-width="1.3"/>
<text x="110.0" y="615.6" font-size="8.0" textLength="34.8" lengthAdjust="spacingAndGlyphs" fill="#231f20" stroke="#231f20" stroke-width="0.18">≥Mean DI</text>
<text x="110.0" y="625.0" font-size="8.0" textLength="30.2" lengthAdjust="spacingAndGlyphs" fill="#231f20" stroke="#231f20" stroke-width="0.18">&lt;Mean DI</text>
<path d="M86.0 553.0 H93.2 V554.5 H97.5 V555.5 H99.9 V557.1 H110.5 V558.2 H112.0 V559.3 H131.2 V560.5 H152.1 V562.5 H156.0 V563.3 H158.8 V564.2 H161.0 V566.0 H162.7 V567.8 H166.5 V568.8 H170.4 V570.2 H173.3 V571.6 H176.0 V572.5 H180.8 V573.5 H183.0 V574.8 H184.1 V576.2 H190.2 V577.5 H196.9 V578.8 H207.7 V580.9 H230.6 V582.2 H231.9 V585.6 H236.0" fill="none" stroke="#34548a" stroke-width="1.3"/>
<line x1="106.6" y1="555.50" x2="106.6" y2="558.70" stroke="#34548a" stroke-width="0.9"/>
<line x1="192.2" y1="575.90" x2="192.2" y2="579.10" stroke="#34548a" stroke-width="0.9"/>
<line x1="194.0" y1="575.90" x2="194.0" y2="579.10" stroke="#34548a" stroke-width="0.9"/>
<line x1="194.9" y1="575.90" x2="194.9" y2="579.10" stroke="#34548a" stroke-width="0.9"/>
<line x1="200.3" y1="577.20" x2="200.3" y2="580.40" stroke="#34548a" stroke-width="0.9"/>
<line x1="202.0" y1="577.20" x2="202.0" y2="580.40" stroke="#34548a" stroke-width="0.9"/>
<line x1="203.5" y1="577.20" x2="203.5" y2="580.40" stroke="#34548a" stroke-width="0.9"/>
<line x1="205.0" y1="577.20" x2="205.0" y2="580.40" stroke="#34548a" stroke-width="0.9"/>
<line x1="209.0" y1="579.30" x2="209.0" y2="582.50" stroke="#34548a" stroke-width="0.9"/>
<line x1="210.5" y1="579.30" x2="210.5" y2="582.50" stroke="#34548a" stroke-width="0.9"/>
<line x1="212.0" y1="579.30" x2="212.0" y2="582.50" stroke="#34548a" stroke-width="0.9"/>
<line x1="213.1" y1="579.30" x2="213.1" y2="582.50" stroke="#34548a" stroke-width="0.9"/>
<line x1="227.9" y1="579.30" x2="227.9" y2="582.50" stroke="#34548a" stroke-width="0.9"/>
<line x1="233.3" y1="584.00" x2="233.3" y2="587.20" stroke="#34548a" stroke-width="0.9"/>
<line x1="235.3" y1="584.00" x2="235.3" y2="587.20" stroke="#34548a" stroke-width="0.9"/>
<path d="M86.0 553.0 H109.5 V561.5 H174.7 V572.3 H236.0" fill="none" stroke="#ac2234" stroke-width="1.3"/>
<line x1="124.4" y1="559.90" x2="124.4" y2="563.10" stroke="#ac2234" stroke-width="0.9"/>
<line x1="125.9" y1="559.90" x2="125.9" y2="563.10" stroke="#ac2234" stroke-width="0.9"/>
<line x1="143.5" y1="559.90" x2="143.5" y2="563.10" stroke="#ac2234" stroke-width="0.9"/>
<line x1="149.2" y1="559.90" x2="149.2" y2="563.10" stroke="#ac2234" stroke-width="0.9"/>
<line x1="201.6" y1="570.70" x2="201.6" y2="573.90" stroke="#ac2234" stroke-width="0.9"/>
<line x1="210.4" y1="570.70" x2="210.4" y2="573.90" stroke="#ac2234" stroke-width="0.9"/>
<line x1="226.5" y1="570.70" x2="226.5" y2="573.90" stroke="#ac2234" stroke-width="0.9"/>
<line x1="228.5" y1="570.70" x2="228.5" y2="573.90" stroke="#ac2234" stroke-width="0.9"/>
<text x="38.75" y="675.6" font-size="7.4" textLength="30.75" lengthAdjust="spacingAndGlyphs" fill="#231f20" stroke="#231f20" stroke-width="0.18">No. at risk</text>
<text x="86.0" y="687.5" font-size="6.9" text-anchor="middle" fill="#231f20" stroke="#231f20" stroke-width="0.18">70</text>
<text x="110.3" y="687.5" font-size="6.9" text-anchor="middle" fill="#231f20" stroke="#231f20" stroke-width="0.18">66</text>
<text x="134.6" y="687.5" font-size="6.9" text-anchor="middle" fill="#231f20" stroke="#231f20" stroke-width="0.18">62</text>
<text x="158.9" y="687.5" font-size="6.9" text-anchor="middle" fill="#231f20" stroke="#231f20" stroke-width="0.18">57</text>
<text x="183.2" y="687.5" font-size="6.9" text-anchor="middle" fill="#231f20" stroke="#231f20" stroke-width="0.18">45</text>
<text x="207.5" y="687.5" font-size="6.9" text-anchor="middle" fill="#231f20" stroke="#231f20" stroke-width="0.18">29</text>
<text x="231.8" y="687.5" font-size="6.9" text-anchor="middle" fill="#231f20" stroke="#231f20" stroke-width="0.18">11</text>
<text x="86.0" y="699.0" font-size="6.9" text-anchor="middle" fill="#231f20" stroke="#231f20" stroke-width="0.18">10</text>
<text x="110.3" y="699.0" font-size="6.9" text-anchor="middle" fill="#231f20" stroke="#231f20" stroke-width="0.18">10</text>
<text x="134.6" y="699.0" font-size="6.9" text-anchor="middle" fill="#231f20" stroke="#231f20" stroke-width="0.18">7</text>
<text x="158.9" y="699.0" font-size="6.9" text-anchor="middle" fill="#231f20" stroke="#231f20" stroke-width="0.18">7</text>
<text x="183.2" y="699.0" font-size="6.9" text-anchor="middle" fill="#231f20" stroke="#231f20" stroke-width="0.18">6</text>
<text x="207.5" y="699.0" font-size="6.9" text-anchor="middle" fill="#231f20" stroke="#231f20" stroke-width="0.18">5</text>
<text x="231.8" y="699.0" font-size="6.9" text-anchor="middle" fill="#231f20" stroke="#231f20" stroke-width="0.18">2</text>
<text x="133.8" y="553.3" font-size="8.0" fill="#231f20" stroke="#231f20" stroke-width="0.18" textLength="54.2" lengthAdjust="spacingAndGlyphs">PFS by DI<tspan font-size="5.2" dy="1.4">8</tspan><tspan dy="-1.4">-week</tspan></text>
<text x="144.8" y="616.6" font-size="5.6" fill="#231f20" stroke="#231f20" stroke-width="0.1" textLength="20.4" lengthAdjust="spacingAndGlyphs">8-week</text>
<text x="145.6" y="627.0" font-size="5.6" fill="#231f20" stroke="#231f20" stroke-width="0.1" textLength="19.6" lengthAdjust="spacingAndGlyphs">8-week</text>
<text x="22.0" y="687.4" font-size="7.3" fill="#231f20" stroke="#231f20" stroke-width="0.18" textLength="36.8" lengthAdjust="spacingAndGlyphs">≥ %mean DI</text>
<text x="58.9" y="689.3" font-size="4.2" fill="#231f20" stroke="#231f20" stroke-width="0.1" textLength="17.3" lengthAdjust="spacingAndGlyphs">8-week</text>
<text x="17.8" y="698.7" font-size="7.3" fill="#231f20" stroke="#231f20" stroke-width="0.18" textLength="37.7" lengthAdjust="spacingAndGlyphs">&lt; %mean DI</text>
<text x="59.5" y="700.6" font-size="4.2" fill="#231f20" stroke="#231f20" stroke-width="0.1" textLength="15.5" lengthAdjust="spacingAndGlyphs">8-week</text>
</svg>
</body></html>
